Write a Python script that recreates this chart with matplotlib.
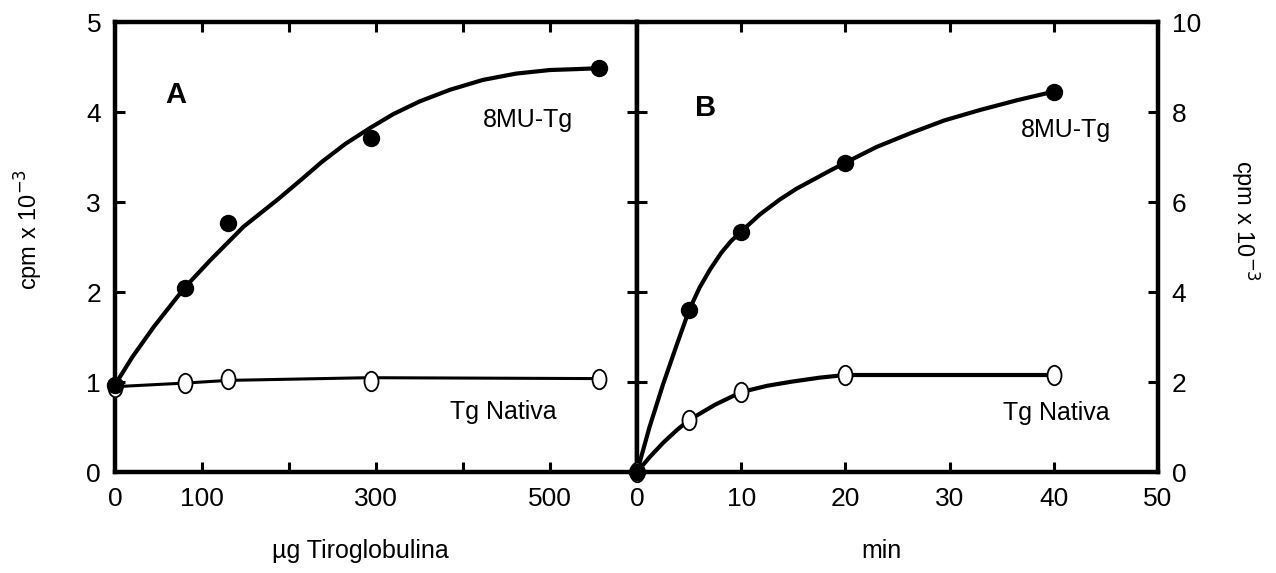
import matplotlib
matplotlib.use("Agg")
import matplotlib.pyplot as plt
from matplotlib.path import Path

plt.rcParams['font.family'] = ['Liberation Sans', 'DejaVu Sans']

# Panel A: ug de tiroglobulina
tg_ug = [0, 80, 130, 294, 556]
mu_a = [0.97, 2.05, 2.77, 3.71, 4.49]
nat_a = [0.95, 0.99, 1.04, 1.01, 1.03]
# curva ajustada
mu_a_curve_x = [0, 20, 45, 80, 110, 148, 187, 214, 238, 265, 294, 320, 350, 385, 423, 461, 500, 530, 556]
mu_a_curve_y = [0.97, 1.28, 1.62, 2.05, 2.36, 2.73, 3.03, 3.25, 3.45, 3.65, 3.83, 3.98, 4.12, 4.25, 4.36, 4.43, 4.47, 4.48, 4.49]
nat_a_curve_x = [0, 80, 130, 292, 556]
nat_a_curve_y = [0.95, 0.99, 1.02, 1.05, 1.04]

# Panel B: tiempo en minutos
t_min = [0, 5, 10, 20, 40]
mu_b = [0, 3.6, 5.35, 6.88, 8.46]
nat_b = [0, 1.16, 1.78, 2.16, 2.16]
mu_b_curve_x = [0, 1.2, 2.5, 3.8, 5, 6, 7, 8.1, 9, 10, 11.8, 13.7, 15.3, 16.9, 18.5, 20, 23, 26.4, 29.5, 32.9, 36.5, 40]
mu_b_curve_y = [0, 1.0, 1.95, 2.82, 3.6, 4.1, 4.5, 4.88, 5.13, 5.35, 5.73, 6.06, 6.3, 6.5, 6.7, 6.88, 7.23, 7.55, 7.82, 8.05, 8.27, 8.46]
nat_b_curve_x = [0, 1.2, 2.5, 3.8, 5, 7.5, 10, 12.5, 14.8, 17.5, 20, 40]
nat_b_curve_y = [0, 0.33, 0.65, 0.93, 1.16, 1.5, 1.78, 1.92, 2.01, 2.1, 2.16, 2.16]

xticks_a = [0, 100, 200, 300, 400, 500, 600]
xlabels_a = ['0', '100', '', '300', '', '500', '']
yticks_a = [0, 1, 2, 3, 4, 5]
xticks_b = [0, 10, 20, 30, 40, 50]
yticks_b = [0, 2, 4, 6, 8, 10]

circ = Path.unit_circle()
oval = Path(circ.vertices * [0.72, 1.0], circ.codes)

fig = plt.figure(figsize=(12.76, 5.73), dpi=100)
ax1 = fig.add_axes([0.0901, 0.176, 0.409, 0.785])
ax2 = fig.add_axes([0.4992, 0.176, 0.4083, 0.785])


def style(ax):
    for s in ax.spines.values():
        s.set_linewidth(3.2)
    ax.tick_params(direction='in', length=7, width=2.2, labelsize=19,
                   top=True, bottom=True, left=True, right=True)
    ax.tick_params(axis='x', pad=11)
    ax.tick_params(axis='y', pad=10)


# ---- A ----
ax1.plot(nat_a_curve_x, nat_a_curve_y, color='black', lw=2.2, zorder=2)
ax1.plot(mu_a_curve_x, mu_a_curve_y, color='black', lw=3, zorder=2)
ax1.plot(tg_ug, nat_a, ls='none', marker=oval, ms=14, mfc='white', mec='black',
         mew=1.3, clip_on=False, zorder=3)
ax1.plot(tg_ug, mu_a, ls='none', marker='o', ms=11.5, color='black', clip_on=False, zorder=4)
ax1.set_xlim(0, 600)
ax1.set_ylim(0, 5)
ax1.set_xticks(xticks_a)
ax1.set_xticklabels(xlabels_a)
ax1.set_yticks(yticks_a)
style(ax1)
ax1.set_xlabel('µg Tiroglobulina', fontsize=18)
ax1.xaxis.set_label_coords(0.47, -0.148)
ax1.set_ylabel('cpm x 10$^{-3}$', fontsize=17)
ax1.yaxis.set_label_coords(-0.135, 0.54)
ax1.text(70, 4.19, 'A', fontsize=21, fontweight='bold', ha='center', va='center')
ax1.text(475, 3.92, '8MU-Tg', fontsize=18, ha='center', va='center')
ax1.text(446, 0.67, 'Tg Nativa', fontsize=18, ha='center', va='center')

# ---- B ----
ax2.plot(nat_b_curve_x, nat_b_curve_y, color='black', lw=3, zorder=2)
ax2.plot(mu_b_curve_x, mu_b_curve_y, color='black', lw=3, zorder=2)
ax2.plot(t_min, nat_b, ls='none', marker=oval, ms=14, mfc='white', mec='black',
         mew=1.3, clip_on=False, zorder=3)
ax2.plot(t_min, mu_b, ls='none', marker='o', ms=11.5, color='black', clip_on=False, zorder=4)
ax2.set_xlim(0, 50)
ax2.set_ylim(0, 10)
ax2.set_xticks(xticks_b)
ax2.set_yticks(yticks_b)
style(ax2)
ax2.yaxis.tick_right()
ax2.tick_params(left=True, right=True, labelleft=False, labelright=True)
ax2.set_xlabel('min', fontsize=18)
ax2.xaxis.set_label_coords(0.47, -0.148)
ax2.yaxis.set_label_position('right')
ax2.set_ylabel('cpm x 10$^{-3}$', fontsize=17, rotation=-90, va='bottom')
ax2.yaxis.set_label_coords(1.135, 0.56)
ax2.text(6.6, 8.1, 'B', fontsize=21, fontweight='bold', ha='center', va='center')
ax2.text(41.2, 7.6, '8MU-Tg', fontsize=18, ha='center', va='center')
ax2.text(40.2, 1.31, 'Tg Nativa', fontsize=18, ha='center', va='center')

fig.savefig('out.png', dpi=100)
